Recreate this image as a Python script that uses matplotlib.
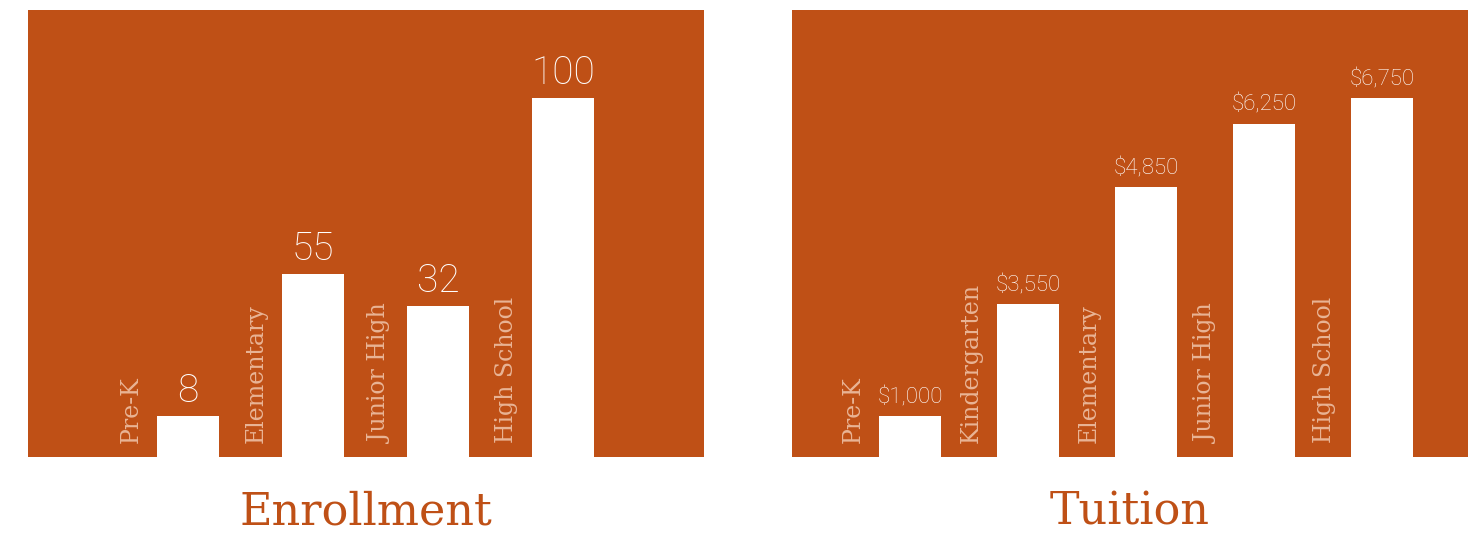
import matplotlib
matplotlib.use("Agg")
import matplotlib.pyplot as plt

# ---- data ----
enroll_categories = ["Pre-K", "Elementary", "Junior High", "High School"]
enroll_labels = ["8", "55", "32", "100"]
enroll_heights = [11.4, 51.0, 42.1, 100.0]      # visual bar heights (relative)

tuition_categories = ["Pre-K", "Kindergarten", "Elementary", "Junior High", "High School"]
tuition_labels = ["$1,000", "$3,550", "$4,850", "$6,250", "$6,750"]
tuition_heights = [11.4, 42.6, 75.2, 92.8, 100.0]

panel_titles = ["Enrollment", "Tuition"]

BG = "#BF5016"
CAT = "#E9B495"
W, H = 1476, 536

fig = plt.figure(figsize=(W / 100, H / 100), dpi=100)
fig.patch.set_facecolor("white")


def panel(left_px, cats, labels, heights, spacing_px, xstart_px, value_size, value_pad, title):
    ax = fig.add_axes([left_px / W, (H - 457) / H, 676 / W, 447 / H])
    ax.set_facecolor(BG)
    for s in ax.spines.values():
        s.set_visible(False)
    ax.set_xticks([])
    ax.set_yticks([])
    x0 = -xstart_px / spacing_px
    x1 = (676 - xstart_px) / spacing_px
    ax.set_xlim(x0, x1)
    ax.set_ylim(0, 100 * 447 / 359)
    width = 62 / spacing_px
    xs = list(range(len(cats)))
    ax.bar(xs, heights, width=width, color="white", linewidth=0)
    for x, h, lab, cat in zip(xs, heights, labels, cats):
        ax.annotate(lab, xy=(x, h), xytext=(0, value_pad), textcoords="offset pixels",
                    ha="center", va="bottom", color="white",
                    fontsize=value_size, family=["Roboto", "DejaVu Sans"],
                    fontweight="light")
        ax.annotate(cat, xy=(x - width / 2, 0), xytext=(-26, 14),
                    textcoords="offset pixels", rotation=90,
                    ha="center", va="bottom", color=CAT,
                    fontsize=17, family=["DejaVu Serif"])
    fig.text((left_px + 338) / W, 1 - 512 / H, title, ha="center", va="center",
             color=BG, fontsize=32, family=["DejaVu Serif"])
    return ax


panel(28, enroll_categories, enroll_labels, enroll_heights, 125, 160, 28, 6, panel_titles[0])
panel(792, tuition_categories, tuition_labels, tuition_heights, 118, 118, 16, 8, panel_titles[1])

fig.savefig("out.png", dpi=100, facecolor="white")
